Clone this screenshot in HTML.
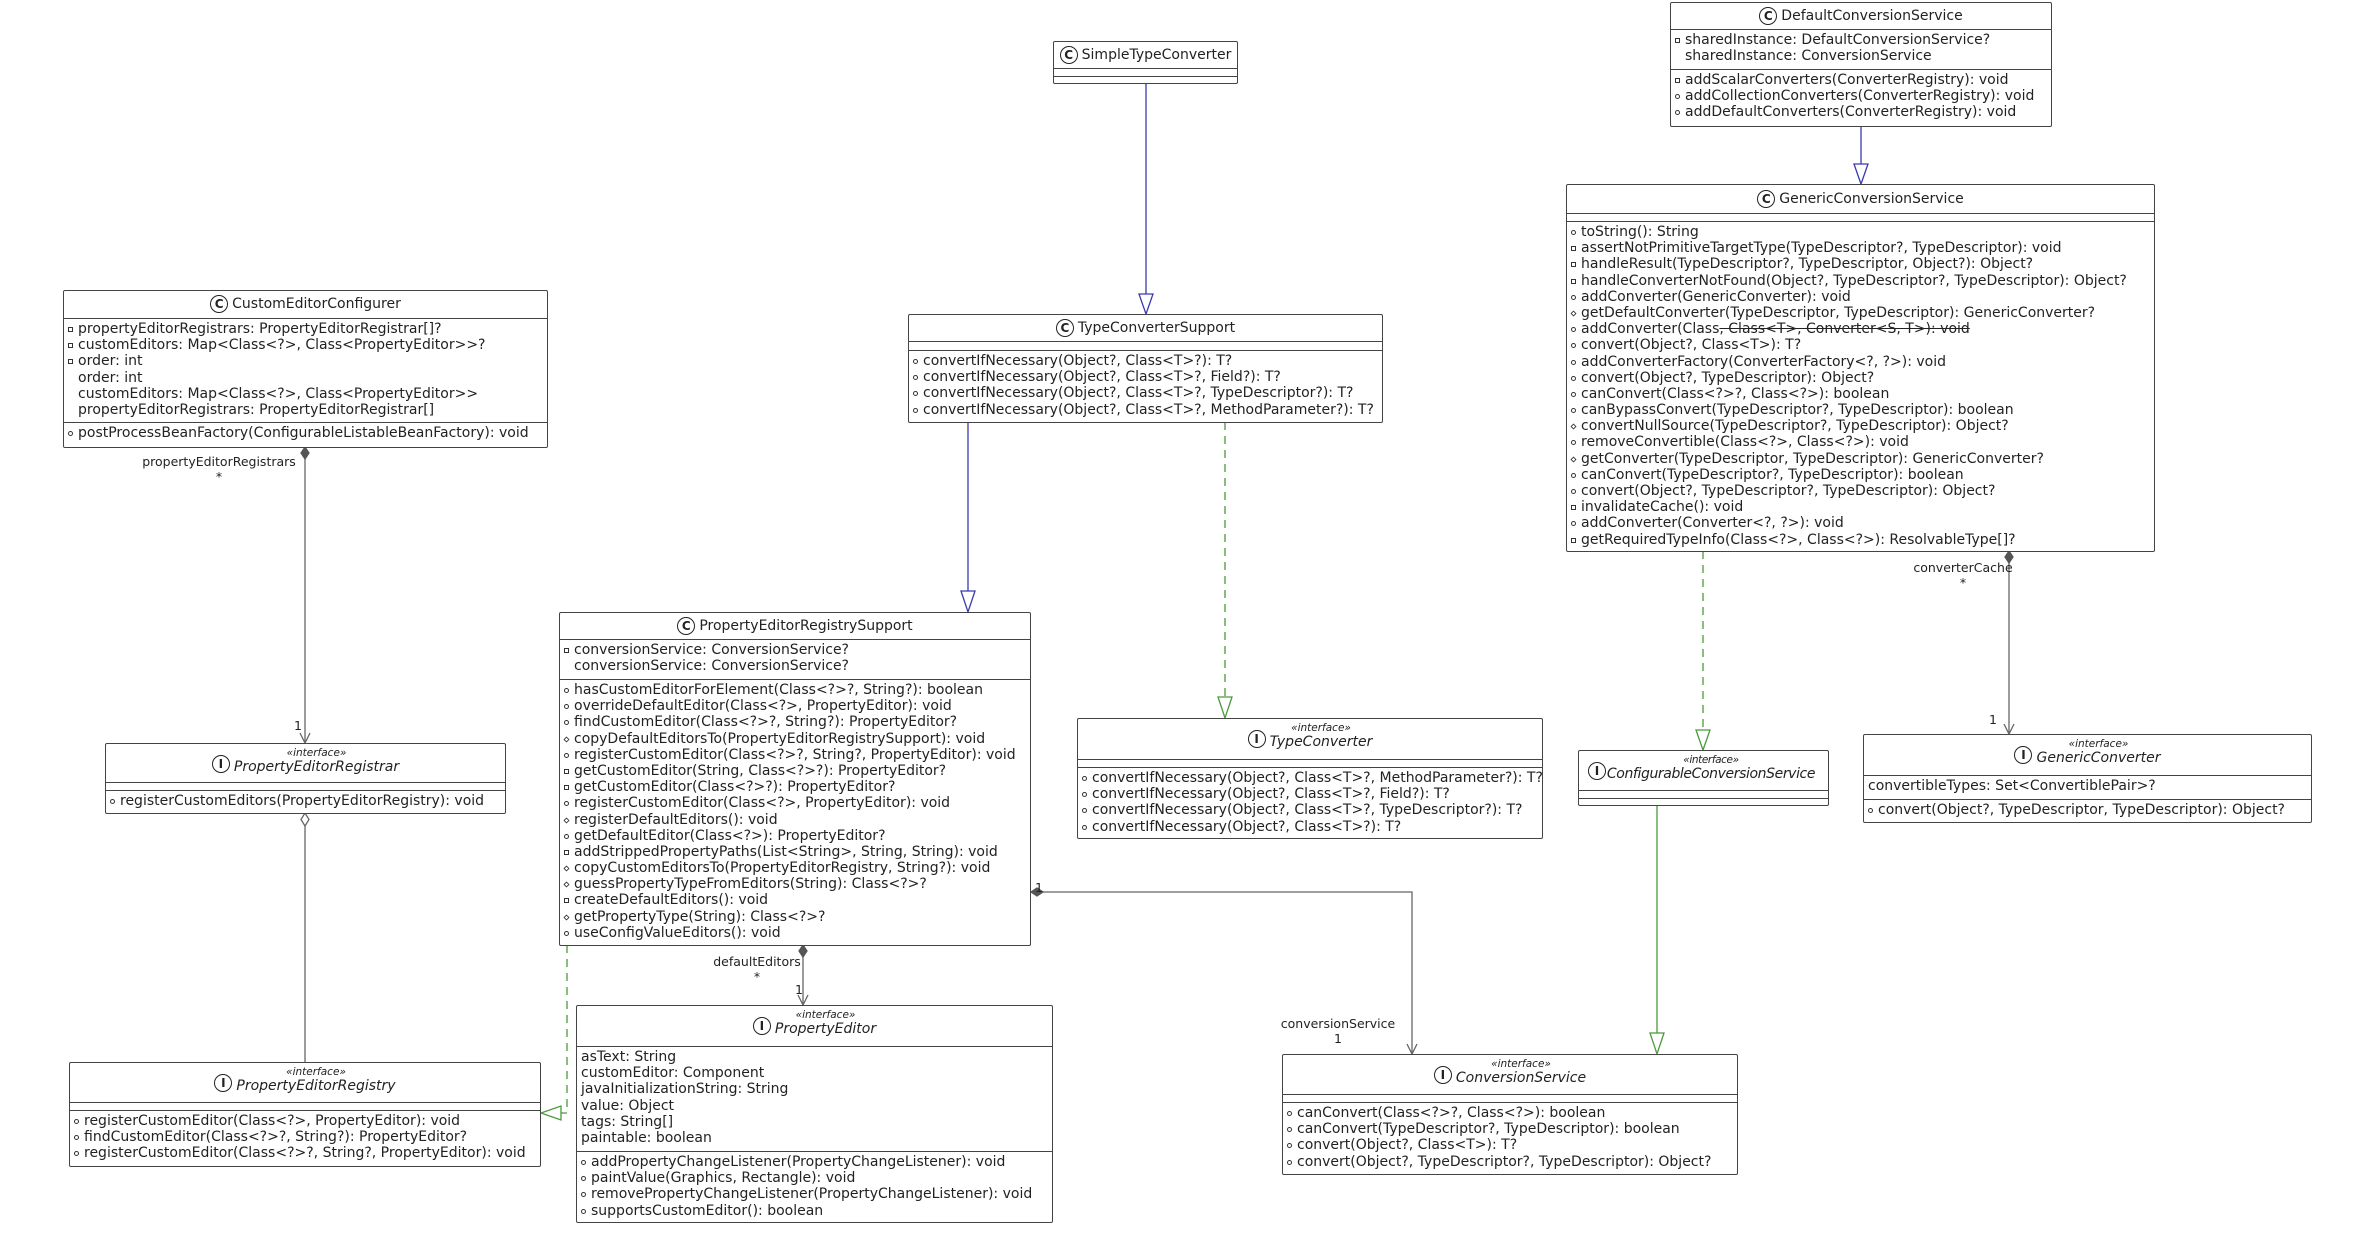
<!DOCTYPE html>
<html><head><meta charset="utf-8"><style>
body{margin:0;width:2356px;height:1240px;background:#fff;position:relative;overflow:hidden;font-family:"DejaVu Sans","Liberation Sans",sans-serif;color:#222}
.b{position:absolute;box-sizing:border-box;border:1px solid #444;border-radius:2px;background:#fff}
.h{box-sizing:border-box;text-align:center;font-size:14px;position:relative;white-space:nowrap}
.s{box-sizing:border-box;border-top:1.5px solid #444;font-size:14px;padding-top:2px;white-space:nowrap}
.r{height:16.2px;line-height:16.2px;padding-left:14px;position:relative}
.r i.m{position:absolute;left:4px;top:6px;width:5px;height:5px;border:1px solid #333;box-sizing:border-box}
.u{border-radius:50%}
.d{transform:rotate(45deg) scale(.85)}
.ic{display:inline-block;width:16px;height:16px;border:1.3px solid #222;border-radius:50%;font-size:12px;line-height:16px;text-align:center;font-weight:bold;vertical-align:middle;margin-right:4px;font-style:normal}
.ih{display:inline-flex;align-items:flex-end;margin-top:3px}
.ih .ic{margin-bottom:2px}
.nb{display:inline-block;text-align:center;font-style:italic}
.st{font-size:10.5px;font-style:italic;line-height:12px;display:block}
.lb{position:absolute;font-size:12.5px;text-align:center;white-space:nowrap}
svg{position:absolute;left:0;top:0}
</style></head><body>
<svg width="2356" height="1240">
<g fill="none" stroke-width="1.3">
<g stroke="#3a3ab0"><line x1="1146" y1="84" x2="1146" y2="294"/><polygon points="1139,294 1153,294 1146,314" fill="#fff"/>
<line x1="968" y1="422" x2="968" y2="591"/><polygon points="961,591 975,591 968,612" fill="#fff"/>
<line x1="1861" y1="126" x2="1861" y2="164"/><polygon points="1854,164 1868,164 1861,184" fill="#fff"/></g>
<g stroke="#4a9a3a"><line x1="1225" y1="422" x2="1225" y2="697" stroke-dasharray="8,6"/><polygon points="1218,697 1232,697 1225,718" fill="#fff"/>
<line x1="1703" y1="551" x2="1703" y2="730" stroke-dasharray="8,6"/><polygon points="1696,730 1710,730 1703,750" fill="#fff"/>
<line x1="1657" y1="805" x2="1657" y2="1033"/><polygon points="1650,1033 1664,1033 1657,1054" fill="#fff"/>
<polyline points="567,945 567,1113 561,1113" stroke-dasharray="8,6"/><polygon points="561,1106 561,1120 541,1113" fill="#fff"/></g>
<g stroke="#666"><line x1="305" y1="459" x2="305" y2="742"/><polyline points="300,733 305,743 310,733"/>
<line x1="305" y1="826" x2="305" y2="1062"/><polygon points="305,813 309,819.5 305,826 301,819.5" fill="#fff"/>
<line x1="803" y1="957" x2="803" y2="1004"/><polyline points="798,995 803,1005 808,995"/>
<polyline points="1043,892 1412,892 1412,1053"/><polyline points="1407,1044 1412,1054 1417,1044"/>
<line x1="2009" y1="563" x2="2009" y2="733"/><polyline points="2004,724 2009,734 2014,724"/></g>
<g fill="#555" stroke="#555"><polygon points="305,447 309,453 305,459 301,453"/><polygon points="803,945 807,951 803,957 799,951"/><polygon points="1031,892 1037,888 1043,892 1037,896"/><polygon points="2009,551 2013,557 2009,563 2005,557"/></g>
</g></svg>

<div class="lb" style="left:139px;top:454px;width:160px">propertyEditorRegistrars<br>*</div>
<div class="lb" style="left:294px;top:718px">1</div>
<div class="lb" style="left:697px;top:954px;width:120px">defaultEditors<br>*</div>
<div class="lb" style="left:795px;top:982px">1</div>
<div class="lb" style="left:1035px;top:880px">1</div>
<div class="lb" style="left:1278px;top:1016px;width:120px">conversionService<br>1</div>
<div class="lb" style="left:1908px;top:560px;width:110px">converterCache<br>*</div>
<div class="lb" style="left:1989px;top:712px">1</div>

<div class="b" style="left:1053px;top:41px;width:185px;height:43px">
<div class="h" style="height:26px;line-height:26px"><i class="ic">C</i>SimpleTypeConverter</div>
<div class="s" style="height:8px"></div><div class="s" style="height:8px"></div></div>

<div class="b" style="left:63px;top:290px;width:485px;height:158px">
<div class="h" style="height:27px;line-height:27px"><i class="ic">C</i>CustomEditorConfigurer</div>
<div class="s" style="height:104px">
<div class="r"><i class="m"></i>propertyEditorRegistrars: PropertyEditorRegistrar[]?</div>
<div class="r"><i class="m"></i>customEditors: Map&lt;Class&lt;?&gt;, Class&lt;PropertyEditor&gt;&gt;?</div>
<div class="r"><i class="m"></i>order: int</div>
<div class="r">order: int</div>
<div class="r">customEditors: Map&lt;Class&lt;?&gt;, Class&lt;PropertyEditor&gt;&gt;</div>
<div class="r">propertyEditorRegistrars: PropertyEditorRegistrar[]</div></div>
<div class="s"><div class="r"><i class="m u"></i>postProcessBeanFactory(ConfigurableListableBeanFactory): void</div></div></div>

<div class="b" style="left:908px;top:314px;width:475px;height:109px">
<div class="h" style="height:26px;line-height:26px"><i class="ic">C</i>TypeConverterSupport</div>
<div class="s" style="height:9px"></div>
<div class="s">
<div class="r"><i class="m u"></i>convertIfNecessary(Object?, Class&lt;T&gt;?): T?</div>
<div class="r"><i class="m u"></i>convertIfNecessary(Object?, Class&lt;T&gt;?, Field?): T?</div>
<div class="r"><i class="m u"></i>convertIfNecessary(Object?, Class&lt;T&gt;?, TypeDescriptor?): T?</div>
<div class="r"><i class="m u"></i>convertIfNecessary(Object?, Class&lt;T&gt;?, MethodParameter?): T?</div></div></div>

<div class="b" style="left:559px;top:612px;width:472px;height:334px">
<div class="h" style="height:26px;line-height:26px"><i class="ic">C</i>PropertyEditorRegistrySupport</div>
<div class="s" style="height:40px">
<div class="r"><i class="m"></i>conversionService: ConversionService?</div>
<div class="r">conversionService: ConversionService?</div></div>
<div class="s">
<div class="r"><i class="m u"></i>hasCustomEditorForElement(Class&lt;?&gt;?, String?): boolean</div>
<div class="r"><i class="m u"></i>overrideDefaultEditor(Class&lt;?&gt;, PropertyEditor): void</div>
<div class="r"><i class="m u"></i>findCustomEditor(Class&lt;?&gt;?, String?): PropertyEditor?</div>
<div class="r"><i class="m d"></i>copyDefaultEditorsTo(PropertyEditorRegistrySupport): void</div>
<div class="r"><i class="m u"></i>registerCustomEditor(Class&lt;?&gt;?, String?, PropertyEditor): void</div>
<div class="r"><i class="m"></i>getCustomEditor(String, Class&lt;?&gt;?): PropertyEditor?</div>
<div class="r"><i class="m"></i>getCustomEditor(Class&lt;?&gt;?): PropertyEditor?</div>
<div class="r"><i class="m u"></i>registerCustomEditor(Class&lt;?&gt;, PropertyEditor): void</div>
<div class="r"><i class="m d"></i>registerDefaultEditors(): void</div>
<div class="r"><i class="m u"></i>getDefaultEditor(Class&lt;?&gt;): PropertyEditor?</div>
<div class="r"><i class="m"></i>addStrippedPropertyPaths(List&lt;String&gt;, String, String): void</div>
<div class="r"><i class="m d"></i>copyCustomEditorsTo(PropertyEditorRegistry, String?): void</div>
<div class="r"><i class="m d"></i>guessPropertyTypeFromEditors(String): Class&lt;?&gt;?</div>
<div class="r"><i class="m"></i>createDefaultEditors(): void</div>
<div class="r"><i class="m d"></i>getPropertyType(String): Class&lt;?&gt;?</div>
<div class="r"><i class="m u"></i>useConfigValueEditors(): void</div></div></div>

<div class="b" style="left:105px;top:743px;width:401px;height:71px">
<div class="h" style="height:38px"><span class="ih"><i class="ic">I</i><span class="nb"><span class="st">«interface»</span>PropertyEditorRegistrar</span></span></div>
<div class="s" style="height:8px"></div>
<div class="s"><div class="r"><i class="m u"></i>registerCustomEditors(PropertyEditorRegistry): void</div></div></div>

<div class="b" style="left:69px;top:1062px;width:472px;height:105px">
<div class="h" style="height:39px"><span class="ih"><i class="ic">I</i><span class="nb"><span class="st">«interface»</span>PropertyEditorRegistry</span></span></div>
<div class="s" style="height:8px"></div>
<div class="s">
<div class="r"><i class="m u"></i>registerCustomEditor(Class&lt;?&gt;, PropertyEditor): void</div>
<div class="r"><i class="m u"></i>findCustomEditor(Class&lt;?&gt;?, String?): PropertyEditor?</div>
<div class="r"><i class="m u"></i>registerCustomEditor(Class&lt;?&gt;?, String?, PropertyEditor): void</div></div></div>

<div class="b" style="left:576px;top:1005px;width:477px;height:218px">
<div class="h" style="height:40px"><span class="ih"><i class="ic">I</i><span class="nb"><span class="st">«interface»</span>PropertyEditor</span></span></div>
<div class="s" style="height:105px">
<div class="r" style="padding-left:4px">asText: String</div>
<div class="r" style="padding-left:4px">customEditor: Component</div>
<div class="r" style="padding-left:4px">javaInitializationString: String</div>
<div class="r" style="padding-left:4px">value: Object</div>
<div class="r" style="padding-left:4px">tags: String[]</div>
<div class="r" style="padding-left:4px">paintable: boolean</div></div>
<div class="s">
<div class="r"><i class="m u"></i>addPropertyChangeListener(PropertyChangeListener): void</div>
<div class="r"><i class="m u"></i>paintValue(Graphics, Rectangle): void</div>
<div class="r"><i class="m u"></i>removePropertyChangeListener(PropertyChangeListener): void</div>
<div class="r"><i class="m u"></i>supportsCustomEditor(): boolean</div></div></div>

<div class="b" style="left:1077px;top:718px;width:466px;height:121px">
<div class="h" style="height:40px"><span class="ih"><i class="ic">I</i><span class="nb"><span class="st">«interface»</span>TypeConverter</span></span></div>
<div class="s" style="height:8px"></div>
<div class="s">
<div class="r"><i class="m u"></i>convertIfNecessary(Object?, Class&lt;T&gt;?, MethodParameter?): T?</div>
<div class="r"><i class="m u"></i>convertIfNecessary(Object?, Class&lt;T&gt;?, Field?): T?</div>
<div class="r"><i class="m u"></i>convertIfNecessary(Object?, Class&lt;T&gt;?, TypeDescriptor?): T?</div>
<div class="r"><i class="m u"></i>convertIfNecessary(Object?, Class&lt;T&gt;?): T?</div></div></div>

<div class="b" style="left:1578px;top:750px;width:251px;height:56px">
<div class="h" style="height:39px"><span class="ih" style="margin-left:-4px"><i class="ic" style="margin-right:1px">I</i><span class="nb" style="letter-spacing:-0.4px"><span class="st">«interface»</span>ConfigurableConversionService</span></span></div>
<div class="s" style="height:8px"></div><div class="s" style="height:8px"></div></div>

<div class="b" style="left:1863px;top:734px;width:449px;height:89px">
<div class="h" style="height:40px"><span class="ih"><i class="ic">I</i><span class="nb"><span class="st">«interface»</span>GenericConverter</span></span></div>
<div class="s" style="height:24px"><div class="r" style="padding-left:4px">convertibleTypes: Set&lt;ConvertiblePair&gt;?</div></div>
<div class="s"><div class="r"><i class="m u"></i>convert(Object?, TypeDescriptor, TypeDescriptor): Object?</div></div></div>

<div class="b" style="left:1282px;top:1054px;width:456px;height:121px">
<div class="h" style="height:39px"><span class="ih"><i class="ic">I</i><span class="nb"><span class="st">«interface»</span>ConversionService</span></span></div>
<div class="s" style="height:8px"></div>
<div class="s">
<div class="r"><i class="m u"></i>canConvert(Class&lt;?&gt;?, Class&lt;?&gt;): boolean</div>
<div class="r"><i class="m u"></i>canConvert(TypeDescriptor?, TypeDescriptor): boolean</div>
<div class="r"><i class="m u"></i>convert(Object?, Class&lt;T&gt;): T?</div>
<div class="r"><i class="m u"></i>convert(Object?, TypeDescriptor?, TypeDescriptor): Object?</div></div></div>

<div class="b" style="left:1670px;top:2px;width:382px;height:125px">
<div class="h" style="height:26px;line-height:26px"><i class="ic">C</i>DefaultConversionService</div>
<div class="s" style="height:40px">
<div class="r"><i class="m"></i>sharedInstance: DefaultConversionService?</div>
<div class="r">sharedInstance: ConversionService</div></div>
<div class="s">
<div class="r"><i class="m"></i>addScalarConverters(ConverterRegistry): void</div>
<div class="r"><i class="m u"></i>addCollectionConverters(ConverterRegistry): void</div>
<div class="r"><i class="m u"></i>addDefaultConverters(ConverterRegistry): void</div></div></div>

<div class="b" style="left:1566px;top:184px;width:589px;height:368px">
<div class="h" style="height:28px;line-height:28px"><i class="ic">C</i>GenericConversionService</div>
<div class="s" style="height:8px"></div>
<div class="s">
<div class="r"><i class="m u"></i>toString(): String</div>
<div class="r"><i class="m"></i>assertNotPrimitiveTargetType(TypeDescriptor?, TypeDescriptor): void</div>
<div class="r"><i class="m"></i>handleResult(TypeDescriptor?, TypeDescriptor, Object?): Object?</div>
<div class="r"><i class="m"></i>handleConverterNotFound(Object?, TypeDescriptor?, TypeDescriptor): Object?</div>
<div class="r"><i class="m u"></i>addConverter(GenericConverter): void</div>
<div class="r"><i class="m d"></i>getDefaultConverter(TypeDescriptor, TypeDescriptor): GenericConverter?</div>
<div class="r"><i class="m u"></i>addConverter(Class<s>, Class&lt;T&gt;, Converter&lt;S, T&gt;): void</s></div>
<div class="r"><i class="m u"></i>convert(Object?, Class&lt;T&gt;): T?</div>
<div class="r"><i class="m u"></i>addConverterFactory(ConverterFactory&lt;?, ?&gt;): void</div>
<div class="r"><i class="m u"></i>convert(Object?, TypeDescriptor): Object?</div>
<div class="r"><i class="m u"></i>canConvert(Class&lt;?&gt;?, Class&lt;?&gt;): boolean</div>
<div class="r"><i class="m u"></i>canBypassConvert(TypeDescriptor?, TypeDescriptor): boolean</div>
<div class="r"><i class="m d"></i>convertNullSource(TypeDescriptor?, TypeDescriptor): Object?</div>
<div class="r"><i class="m u"></i>removeConvertible(Class&lt;?&gt;, Class&lt;?&gt;): void</div>
<div class="r"><i class="m d"></i>getConverter(TypeDescriptor, TypeDescriptor): GenericConverter?</div>
<div class="r"><i class="m u"></i>canConvert(TypeDescriptor?, TypeDescriptor): boolean</div>
<div class="r"><i class="m u"></i>convert(Object?, TypeDescriptor?, TypeDescriptor): Object?</div>
<div class="r"><i class="m"></i>invalidateCache(): void</div>
<div class="r"><i class="m u"></i>addConverter(Converter&lt;?, ?&gt;): void</div>
<div class="r"><i class="m"></i>getRequiredTypeInfo(Class&lt;?&gt;, Class&lt;?&gt;): ResolvableType[]?</div></div></div>
</body></html>
